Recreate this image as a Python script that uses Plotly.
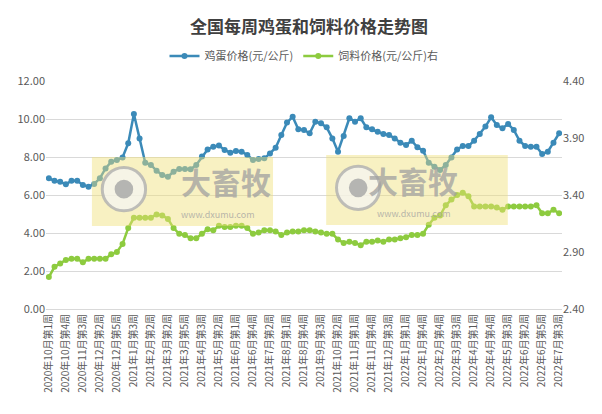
import plotly.graph_objects as go

# weeks per month (year, month, week numbers); Feb 2022 week 1 missing in source
month_weeks = [
    (2020, 10, [1, 2, 3, 4]), (2020, 11, [1, 2, 3, 4]), (2020, 12, [1, 2, 3, 4, 5]),
    (2021, 1, [1, 2, 3, 4]), (2021, 2, [1, 2, 3]), (2021, 3, [1, 2, 3, 4, 5]),
    (2021, 4, [1, 2, 3, 4]), (2021, 5, [1, 2, 3, 4]), (2021, 6, [1, 2, 3, 4, 5]),
    (2021, 7, [1, 2, 3, 4]), (2021, 8, [1, 2, 3, 4]), (2021, 9, [1, 2, 3, 4]),
    (2021, 10, [1, 2, 3, 4]), (2021, 11, [1, 2, 3, 4]), (2021, 12, [1, 2, 3, 4, 5]),
    (2022, 1, [1, 2, 3, 4]), (2022, 2, [2, 3, 4]), (2022, 3, [1, 2, 3, 4, 5]),
    (2022, 4, [1, 2, 3, 4]), (2022, 5, [1, 2, 3, 4]), (2022, 6, [1, 2, 3, 4, 5]),
    (2022, 7, [1, 2, 3]),
]
weeks = [f"{y}年{m}月第{w}周" for y, m, ws in month_weeks for w in ws]

egg = [6.88, 6.75, 6.70, 6.56, 6.75, 6.75, 6.53, 6.44, 6.58, 6.88,
       7.40, 7.75, 7.84, 7.98, 8.72, 10.26, 8.98, 7.70, 7.58, 7.28,
       7.05, 6.96, 7.23, 7.37, 7.37, 7.35, 7.58, 8.02, 8.40, 8.54,
       8.60, 8.37, 8.23, 8.32, 8.28, 8.11, 7.84, 7.89, 7.93, 8.19,
       8.49, 9.16, 9.81, 10.12, 9.46, 9.42, 9.25, 9.86, 9.77, 9.56,
       8.98, 8.28, 9.11, 10.04, 9.86, 10.04, 9.56, 9.46, 9.33, 9.21,
       9.16, 8.98, 8.75, 8.63, 8.86, 8.51, 8.33, 7.70, 7.49, 7.32,
       7.58, 7.98, 8.40, 8.58, 8.58, 8.86, 9.21, 9.60, 10.09, 9.68,
       9.51, 9.74, 9.42, 8.86, 8.58, 8.54, 8.54, 8.16, 8.28, 8.75, 9.25]

feed = [2.68, 2.77, 2.80, 2.83, 2.84, 2.84, 2.81, 2.84, 2.84, 2.84,
        2.84, 2.88, 2.90, 2.97, 3.11, 3.20, 3.20, 3.20, 3.20, 3.23,
        3.22, 3.19, 3.11, 3.06, 3.05, 3.02, 3.02, 3.06, 3.10, 3.09,
        3.13, 3.12, 3.12, 3.13, 3.13, 3.11, 3.06, 3.07, 3.09, 3.09,
        3.08, 3.05, 3.07, 3.08, 3.08, 3.09, 3.09, 3.08, 3.07, 3.06,
        3.06, 3.01, 2.98, 2.99, 2.98, 2.96, 2.99, 2.99, 3.00, 2.99,
        3.01, 3.01, 3.02, 3.03, 3.05, 3.05, 3.06, 3.14, 3.20, 3.22,
        3.31, 3.36, 3.40, 3.42, 3.39, 3.30, 3.30, 3.30, 3.30, 3.29,
        3.27, 3.30, 3.30, 3.30, 3.30, 3.30, 3.31, 3.24, 3.24, 3.27, 3.24]

left_ticks = [0, 2, 4, 6, 8, 10, 12]
right_ticks = [2.40, 2.90, 3.40, 3.90, 4.40]

BLUE = "#3B8AB8"
GREEN = "#8DCB3F"
FONT = "Noto Sans CJK SC"

fig = go.Figure()
fig.add_trace(go.Scatter(x=weeks, y=egg, name="鸡蛋价格(元/公斤)", mode="lines+markers",
                         line=dict(color=BLUE, width=2.5), marker=dict(size=6, color=BLUE)))
fig.add_trace(go.Scatter(x=weeks, y=feed, name="饲料价格(元/公斤)右", mode="lines+markers", yaxis="y2",
                         line=dict(color=GREEN, width=2.5), marker=dict(size=6, color=GREEN)))

# watermark boxes
shapes = []
annos = []
for x0, x1, y0, y1 in [(0.089, 0.440, 0.364, 0.667), (0.543, 0.895, 0.368, 0.675)]:
    shapes.append(dict(type="rect", xref="paper", yref="paper", x0=x0, x1=x1, y0=y0, y1=y1,
                       fillcolor="rgba(240,225,120,0.45)", line_width=0, layer="above"))
    cx = x0 + 0.062
    cy = (y0 + y1) / 2 + 0.01
    shapes.append(dict(type="circle", xref="paper", yref="paper", x0=cx - 0.042, x1=cx + 0.042,
                       y0=cy - 0.095, y1=cy + 0.095, fillcolor="rgba(245,245,245,0.7)",
                       line=dict(color="rgba(175,175,175,0.8)", width=3), layer="above"))
    shapes.append(dict(type="circle", xref="paper", yref="paper", x0=cx - 0.018, x1=cx + 0.018,
                       y0=cy - 0.041, y1=cy + 0.041, fillcolor="rgba(165,165,165,0.8)",
                       line_width=0, layer="above"))
    annos.append(dict(text="<b>大畜牧</b>", xref="paper", yref="paper", x=x0 + 0.26, y=cy + 0.035,
                      showarrow=False, font=dict(size=30, color="rgba(160,160,160,0.75)", family=FONT)))
    annos.append(dict(text="www.dxumu.com", xref="paper", yref="paper", x=x0 + 0.245, y=y0 + 0.05,
                      showarrow=False, font=dict(size=9, color="rgba(160,160,160,0.75)", family=FONT)))

fig.update_layout(
    width=602, height=414,
    margin=dict(l=38, r=48, t=73, b=113, autoexpand=False),
    paper_bgcolor="white", plot_bgcolor="white",
    font=dict(family=FONT, color="#595959", size=11),
    title=dict(text="<b>全国每周鸡蛋和饲料价格走势图</b>", x=0.5, xanchor="center", y=0.955,
               yanchor="middle", font=dict(size=17, color="#404040", family=FONT)),
    legend=dict(orientation="h", x=0.5, xanchor="center", y=1.11, yanchor="middle",
                font=dict(size=11, color="#595959")),
    xaxis=dict(type="category", range=[-0.5, len(weeks) - 0.5], tickmode="array",
               tickvals=weeks[::3], ticktext=weeks[::3], tickangle=-90, automargin=False,
               tickfont=dict(size=10, color="#595959"), showgrid=False,
               showline=True, linecolor="#D9D9D9", ticks=""),
    yaxis=dict(range=[0, 12], tickvals=left_ticks, tickformat=".2f", gridcolor="#D9D9D9",
               zeroline=False, tickfont=dict(size=11), automargin=False),
    yaxis2=dict(range=[2.4, 4.4], tickvals=right_ticks, tickformat=".2f", overlaying="y",
                side="right", showgrid=False, zeroline=False, tickfont=dict(size=11),
                automargin=False),
    shapes=shapes, annotations=annos,
)

fig.write_html("out.html")
